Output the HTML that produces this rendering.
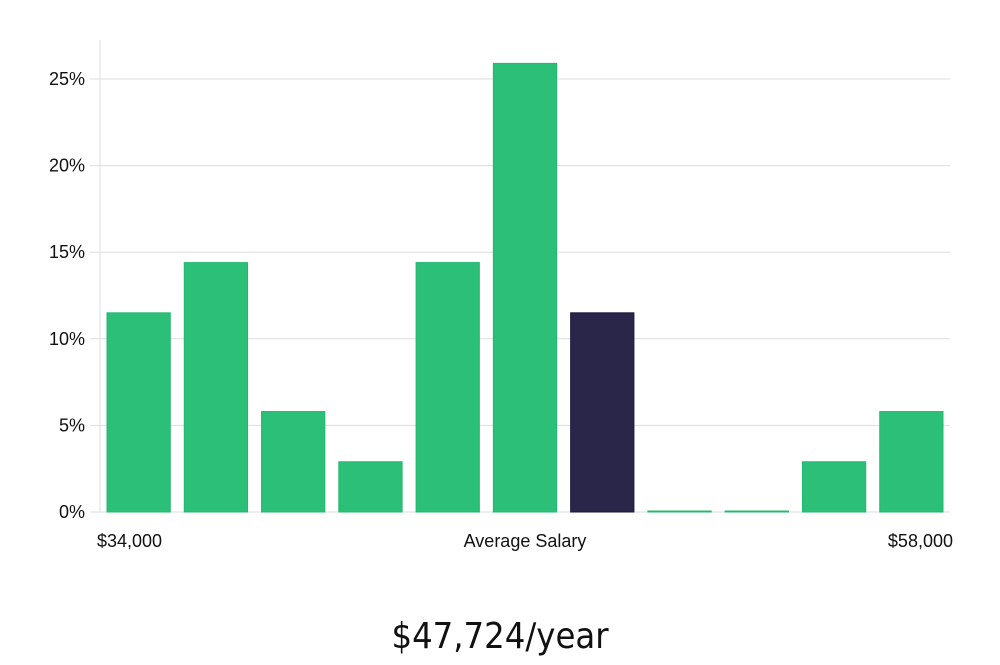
<!DOCTYPE html>
<html><head><meta charset="utf-8"><style>
body{margin:0;background:#fff;width:1000px;height:660px;overflow:hidden;font-family:"Liberation Sans","DejaVu Sans",sans-serif}
</style></head><body>
<svg width="1000" height="660">
<g id="grid"></g><g id="bars"></g><g id="labels"></g>
<text x="500" y="648" text-anchor="middle" font-size="36" fill="#111" font-family="'DejaVu Sans Condensed','Liberation Sans Narrow','Liberation Sans',sans-serif" font-weight="300">$47,724/year</text>
</svg>
<script>
const categories=["b1","b2","b3","b4","b5","b6","b7","b8","b9","b10","b11"];
const values=[11.5,14.4,5.8,2.9,14.4,25.9,11.5,0,0,2.9,5.8];
const highlightIndex=6;
const yTicks=[0,5,10,15,20,25];
const yTickLabels=["0%","5%","10%","15%","20%","25%"];
const xLabels=["$34,000","Average Salary","$58,000"];
const NS="http://www.w3.org/2000/svg";
const x0=100,x1=950,yBase=512,pxPer=(512-79)/25;
const y=v=>yBase-v*pxPer;
const step=(x1-x0)/categories.length;
function mk(t,a,p){const e=document.createElementNS(NS,t);for(const k in a)e.setAttribute(k,a[k]);document.getElementById(p).appendChild(e);return e;}
let ax=mk("line",{x1:x0,y1:40,x2:x0,y2:yBase,stroke:"#ddd"},"grid");


yTicks.forEach((t,i)=>{
 const g=mk("line",{x1:90,y1:y(t),x2:x1,y2:y(t),stroke:"#ddd"},"grid");
 
 
 const l=mk("text",{x:85,y:y(t)+6,"text-anchor":"end","font-size":18,fill:"#111"},"labels");
 l.textContent=yTickLabels[i];
 
 
});
values.forEach((v,i)=>{
 const bx=x0+i*step+7,bw=step-14,h=Math.max(v*pxPer,1);
 const hi=i===highlightIndex;
 const r=mk("rect",{x:bx,y:yBase-h,width:bw,height:h,fill:hi?"#29264a":"#2bbf78",stroke:hi?"#1a1738":"#22b86e","stroke-width":1},"bars");
 
 
});
const xl=[[97,"start"],[525,"middle"],[953,"end"]];
xLabels.forEach((s,i)=>{
 const t=mk("text",{x:xl[i][0],y:547,"text-anchor":xl[i][1],"font-size":18,fill:"#111"},"labels");
 t.textContent=s;
 
 
});
</script>
</body></html>
